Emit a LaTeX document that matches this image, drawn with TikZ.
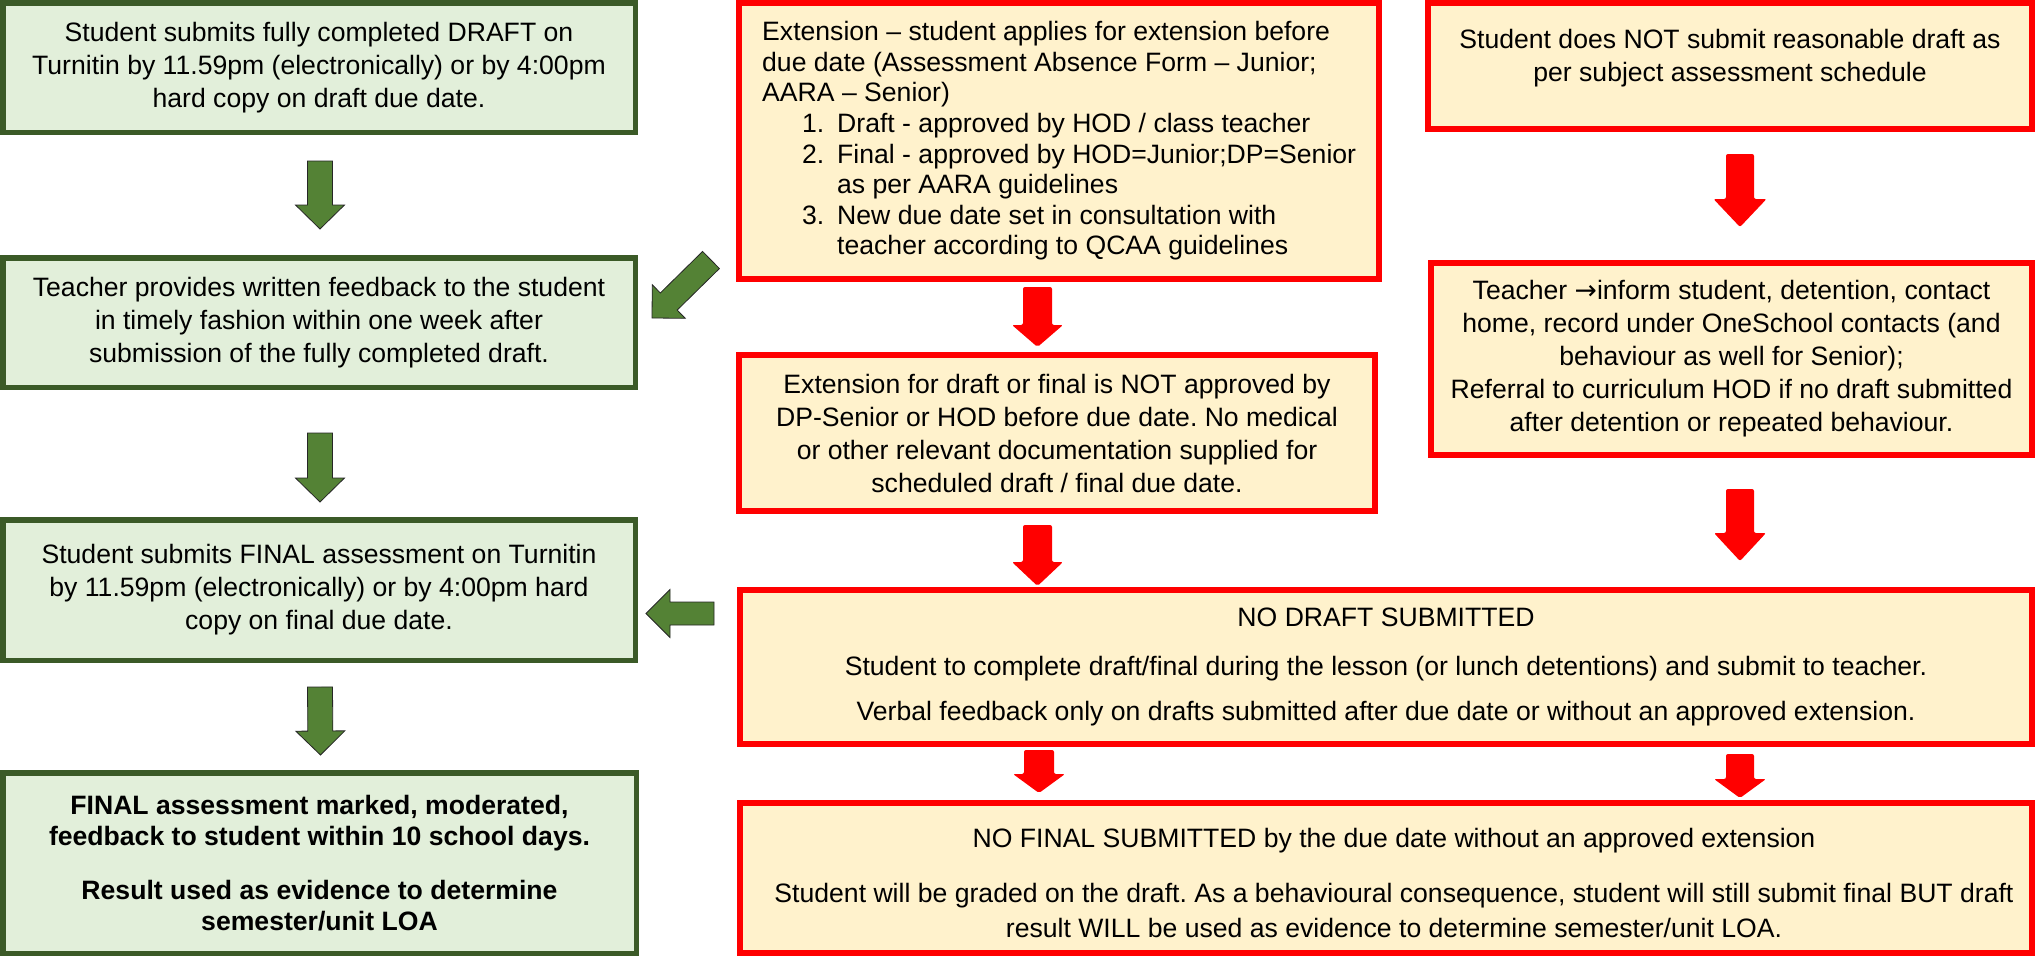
\documentclass[tikz,border=0pt]{standalone}
\usepackage{fontspec}
\setmainfont{Liberation Sans}
\newfontfamily\symfont{DejaVu Sans}
\usetikzlibrary{calc}
\definecolor{gborder}{HTML}{3B5A27}
\definecolor{gfill}{HTML}{E2EFDA}
\definecolor{garrow}{HTML}{548235}
\definecolor{rborder}{HTML}{FF0000}
\definecolor{yfill}{HTML}{FFF2CC}
% block arrow: #1 style, #2 tail, #3 tip, #4 shaft half width, #5 head half width, #6 head length
\newcommand\barrow[6]{%
  \coordinate (bh) at ($(#3)!#6!(#2)$);
  \path[#1] ($(#2)!#4!90:(#3)$) -- ($(bh)!#4!90:(#3)$) -- ($(bh)!#5!90:(#3)$) -- (#3)
    -- ($(bh)!#5!-90:(#3)$) -- ($(bh)!#4!-90:(#3)$) -- ($(#2)!#4!-90:(#3)$) -- cycle;}
\frenchspacing
\begin{document}
\begin{tikzpicture}[x=1pt,y=-1pt,
  font=\fontsize{26.6}{33}\selectfont\frenchspacing,
  gbox/.style={draw=gborder, fill=gfill, line width=5.5pt, inner sep=0pt, align=center},
  rbox/.style={draw=rborder, fill=yfill, line width=6pt, inner sep=0pt, align=center},
  garr/.style={fill=garrow, draw=black!85, line width=0.8pt, line join=miter},
  rarr/.style={fill=rborder, rounded corners=2pt},
  txt/.style={inner sep=0pt, align=center}]
\useasboundingbox[fill=white] (0,0) rectangle (2035,956);

% left column
\node[gbox, minimum width=632.5pt, minimum height=129.5pt] (g1) at (319,67.5)
  {Student submits fully completed DRAFT on\\Turnitin by 11.59pm (electronically) or by 4:00pm\\hard copy on draft due date.};
\node[gbox, minimum width=632.5pt, minimum height=129.5pt] (g2) at (319,322.5)
  {Teacher provides written feedback to the student\\in timely fashion within one week after\\submission of the fully completed draft.};
\node[gbox, minimum width=632.5pt, minimum height=140.5pt] (g3) at (319,590)
  {Student submits FINAL assessment on Turnitin\\by 11.59pm (electronically) or by 4:00pm hard\\copy on final due date.};
\node[gbox, minimum width=633.5pt, minimum height=180.5pt, font=\fontsize{26.6}{33}\selectfont\frenchspacing\bfseries] (g4) at (319.5,863)
  {FINAL assessment marked, moderated,\\[-2pt]feedback to student within 10 school days.\\[21pt]Result used as evidence to determine\\[-2pt]semester/unit LOA};

% middle column
\node[rbox, minimum width=640pt, minimum height=276pt] (r1) at (1059,141) {};
\node[txt, anchor=west, align=left, font=\fontsize{26.6}{30.6}\selectfont\frenchspacing] (r1t) at (762,141)
  {Extension -- student applies for extension before\\
   due date (Assessment Absence Form -- Junior;\\
   AARA -- Senior)\\
   \hspace*{40pt}\makebox[35pt][l]{1.}Draft - approved by HOD / class teacher\\
   \hspace*{40pt}\makebox[35pt][l]{2.}Final - approved by HOD=Junior;DP=Senior\\
   \hspace*{75pt}as per AARA guidelines\\
   \hspace*{40pt}\makebox[35pt][l]{3.}New due date set in consultation with\\
   \hspace*{75pt}teacher according to QCAA guidelines};
\node[rbox, minimum width=636pt, minimum height=156pt] (r2) at (1057,433)
  {Extension for draft or final is NOT approved by\\DP-Senior or HOD before due date. No medical\\or other relevant documentation supplied for\\scheduled draft / final due date.};
\node[rbox, minimum width=1292pt, minimum height=154pt] (r3) at (1386,667)
  {NO DRAFT SUBMITTED\\[16pt]Student to complete draft/final during the lesson (or lunch detentions) and submit to teacher.\\[12pt]Verbal feedback only on drafts submitted after due date or without an approved extension.};
\node[rbox, minimum width=1292pt, minimum height=150pt] (r4) at (1386,878) {};
\node[txt] (r4t) at (1394,883)
  {NO FINAL SUBMITTED by the due date without an approved extension\\[22pt]Student will be graded on the draft. As a behavioural consequence, student will still submit final BUT draft\\[2pt]result WILL be used as evidence to determine semester/unit LOA.};

% right column
\node[rbox, minimum width=604pt, minimum height=126pt] (r5) at (1730,66) {};
\node[txt] (r5t) at ($(r5.center)+(0,-8)$)
  {Student does NOT submit reasonable draft as\\per subject assessment schedule};
\node[rbox, minimum width=601pt, minimum height=192pt] (r6) at (1731.5,359)
  {Teacher {\symfont →}inform student, detention, contact\\home, record under OneSchool contacts (and\\behaviour as well for Senior);\\Referral to curriculum HOD if no draft submitted\\after detention or repeated behaviour.};

% green arrows
\coordinate (ga1s) at ($(g1.south)+(1,26)$);  \coordinate (ga1e) at ($(g2.north)+(1,-26)$);
\coordinate (ga2s) at ($(g2.south)+(1,43)$);  \coordinate (ga2e) at ($(g3.north)+(1,-15)$);
\coordinate (ga3s) at ($(g3.south)+(1,24)$);  \coordinate (ga3e) at ($(g4.north)+(1,-15)$);
\coordinate (gds) at ($(r1.south west)+(-25,-22)$); \coordinate (gde) at ($(g2.north east)+(14,63)$);
\coordinate (gls) at ($(r3.west)+(-23,-53.5)$); \coordinate (gle) at ($(g3.east)+(8,23.5)$);
\barrow{garr}{ga1s}{ga1e}{12.5pt}{24.5pt}{24pt}
\barrow{garr}{ga2s}{ga2e}{12.5pt}{24.5pt}{24pt}
\barrow{garr}{ga3s}{ga3e}{12.5pt}{24.5pt}{24pt}
\barrow{garr}{gds}{gde}{12pt}{23.5pt}{23.5pt}
\barrow{garr}{gls}{gle}{11.5pt}{24pt}{24pt}

% red arrows
\coordinate (ra1s) at ($(r1.south)+(-21.5,5)$);  \coordinate (ra1e) at ($(r2.north)+(-19.5,-5)$);
\coordinate (ra2s) at ($(r2.south)+(-19.5,11)$); \coordinate (ra2e) at ($(r3.north)+(-348.5,-1)$);
\coordinate (ra3s) at ($(r3.south)+(-347,3)$);   \coordinate (ra3e) at ($(r4.north)+(-347,-7)$);
\coordinate (ra4s) at ($(r3.south)+(354,7)$);    \coordinate (ra4e) at ($(r4.north)+(354,-2)$);
\coordinate (ra5s) at ($(r5.south)+(10,22)$);    \coordinate (ra5e) at ($(r6.north)+(8.5,-33)$);
\coordinate (ra6s) at ($(r6.south)+(8.5,31)$);   \coordinate (ra6e) at ($(r3.north)+(354,-26)$);
\barrow{rarr}{ra1s}{ra1e}{14.5pt}{25.5pt}{22pt}
\barrow{rarr}{ra2s}{ra2e}{14.5pt}{25.5pt}{24pt}
\barrow{rarr}{ra3s}{ra3e}{15pt}{26pt}{19pt}
\barrow{rarr}{ra4s}{ra4e}{14pt}{26pt}{19pt}
\barrow{rarr}{ra5s}{ra5e}{14pt}{26.5pt}{28pt}
\barrow{rarr}{ra6s}{ra6e}{14pt}{26pt}{28pt}
\end{tikzpicture}
\end{document}
